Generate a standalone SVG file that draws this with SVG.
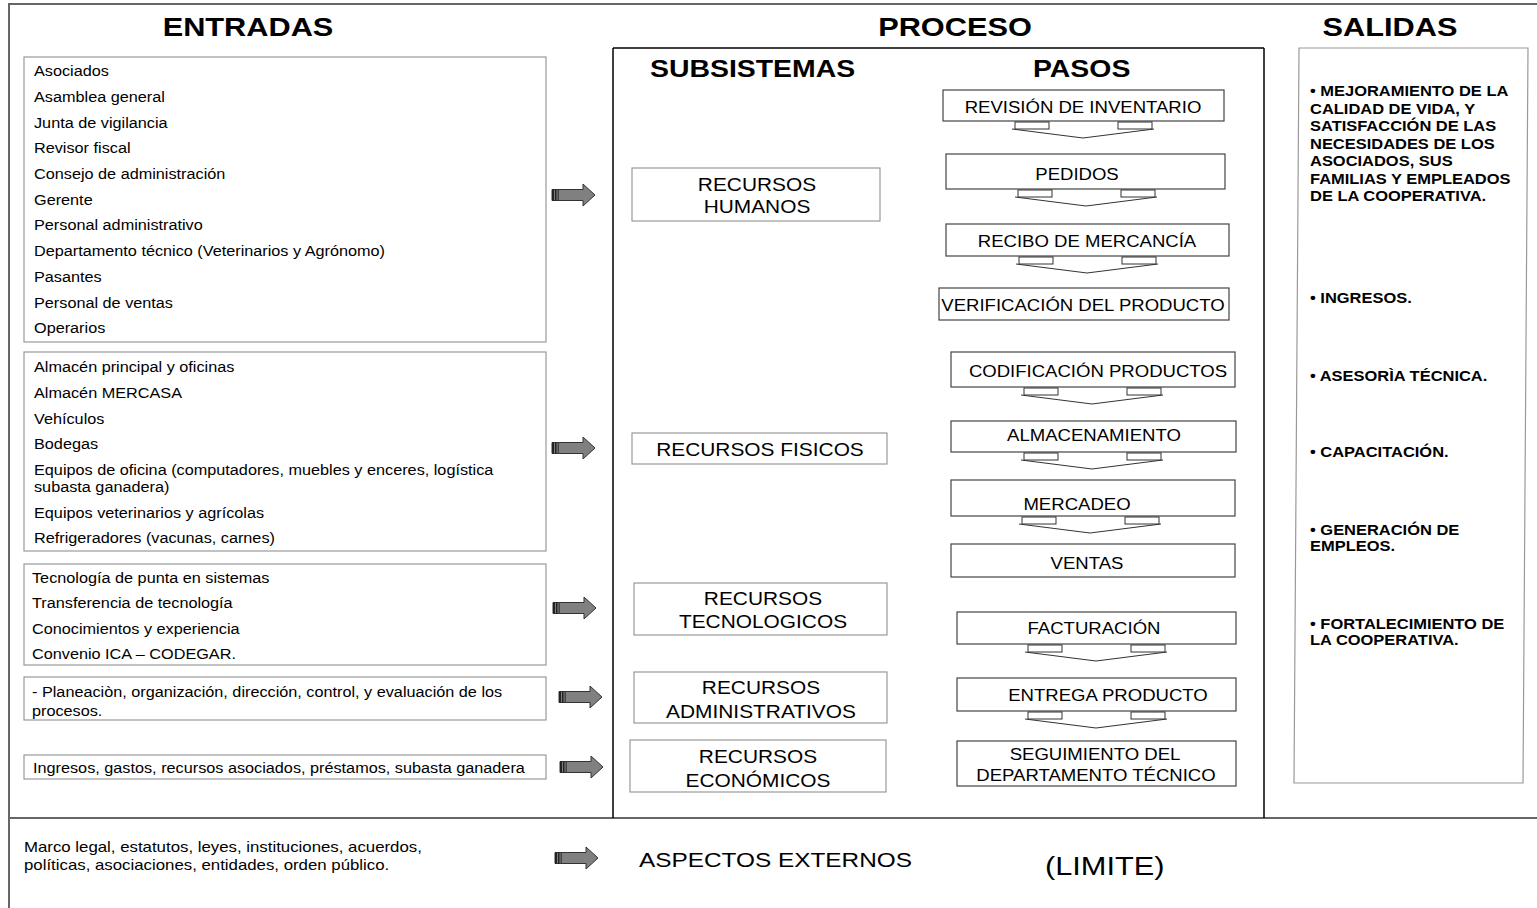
<svg xmlns="http://www.w3.org/2000/svg" xmlns:xlink="http://www.w3.org/1999/xlink" width="1537" height="908" viewBox="0 0 1537 908">
<style>
text{font-family:"Liberation Sans",Arial,sans-serif;fill:#000}
.h{font-size:26.5px;font-weight:bold}
.sh{font-size:24.5px;font-weight:bold}
.l{font-size:14px}
.st{font-size:16px}
.sb{font-size:18px}
.o{font-size:14.2px;font-weight:bold}
.x{font-size:14.5px}
.m{text-anchor:middle}
.gbox{fill:#fff;stroke:#999;stroke-width:1.2}
.sbox{fill:#fff;stroke:#444;stroke-width:1.2}
.frame{fill:none;stroke:#666;stroke-width:2}
.pbox{fill:none;stroke:#000;stroke-width:1.5}
</style>
<defs>
<g id="ba">
<path d="M0,-5.5 H31 V-11 L43,0 L31,11 V5.5 H0 Z" fill="#808080" stroke="#333" stroke-width="1"/>
<rect x="0" y="-5.5" width="2" height="11" fill="#222"/>
<rect x="3" y="-5.5" width="1.5" height="11" fill="#222"/>
<rect x="5.5" y="-5.5" width="1.5" height="11" fill="#444"/>
</g>
<g id="da" fill="#fff" stroke="#333" stroke-width="1">
<rect x="-68" y="1" width="34" height="7"/>
<rect x="35" y="1" width="34" height="7"/>
<polyline points="-71,8 0,17 71,8" fill="none"/>
</g>
</defs>
<rect width="1537" height="908" fill="#fff"/>
<g id="frame">
<line x1="8" y1="4" x2="1537" y2="4" class="frame"/>
<line x1="9" y1="3" x2="9" y2="908" class="frame"/>
<line x1="8" y1="818" x2="1537" y2="818" class="frame"/>
<line x1="613" y1="48" x2="613" y2="818" class="pbox"/>
<line x1="613" y1="48" x2="1264" y2="48" class="pbox"/>
<line x1="1264" y1="48" x2="1264" y2="818" class="pbox"/>
</g>
<g id="headers">
<text class="h m" transform="translate(248,36) scale(1.16,1)">ENTRADAS</text>
<text class="h m" transform="translate(955,36) scale(1.16,1)">PROCESO</text>
<text class="h m" transform="translate(1390,36) scale(1.16,1)">SALIDAS</text>
<text class="sh" transform="translate(650,77) scale(1.16,1)">SUBSISTEMAS</text>
<text class="sh" transform="translate(1033,77) scale(1.16,1)">PASOS</text>
</g>
<g id="entradas-humanos">
<rect x="24" y="57" width="522" height="285" class="gbox"/>
<text class="l" transform="translate(34,76) scale(1.16,1)">Asociados</text>
<text class="l" transform="translate(34,102) scale(1.16,1)">Asamblea general</text>
<text class="l" transform="translate(34,127.5) scale(1.16,1)">Junta de vigilancia</text>
<text class="l" transform="translate(34,153) scale(1.16,1)">Revisor fiscal</text>
<text class="l" transform="translate(34,178.5) scale(1.16,1)">Consejo de administración</text>
<text class="l" transform="translate(34,204.5) scale(1.16,1)">Gerente</text>
<text class="l" transform="translate(34,230) scale(1.16,1)">Personal administrativo</text>
<text class="l" transform="translate(34,256) scale(1.16,1)">Departamento técnico (Veterinarios y Agrónomo)</text>
<text class="l" transform="translate(34,281.5) scale(1.16,1)">Pasantes</text>
<text class="l" transform="translate(34,307.5) scale(1.16,1)">Personal de ventas</text>
<text class="l" transform="translate(34,333) scale(1.16,1)">Operarios</text>
</g>
<g id="entradas-fisicos">
<rect x="24" y="352" width="522" height="199" class="gbox"/>
<text class="l" transform="translate(34,372) scale(1.16,1)">Almacén principal y oficinas</text>
<text class="l" transform="translate(34,397.5) scale(1.16,1)">Almacén MERCASA</text>
<text class="l" transform="translate(34,423.5) scale(1.16,1)">Vehículos</text>
<text class="l" transform="translate(34,449) scale(1.16,1)">Bodegas</text>
<text class="l" transform="translate(34,474.5) scale(1.16,1)">Equipos de oficina (computadores, muebles y enceres, logística</text>
<text class="l" transform="translate(34,491.5) scale(1.16,1)">subasta ganadera)</text>
<text class="l" transform="translate(34,517.5) scale(1.16,1)">Equipos veterinarios y agrícolas</text>
<text class="l" transform="translate(34,543) scale(1.16,1)">Refrigeradores (vacunas, carnes)</text>
</g>
<g id="entradas-tecnologicos">
<rect x="24" y="564" width="522" height="101" class="gbox"/>
<text class="l" transform="translate(32,582.5) scale(1.16,1)">Tecnología de punta en sistemas</text>
<text class="l" transform="translate(32,608) scale(1.16,1)">Transferencia de tecnología</text>
<text class="l" transform="translate(32,633.5) scale(1.16,1)">Conocimientos y experiencia</text>
<text class="l" transform="translate(32,659) scale(1.16,1)">Convenio ICA – CODEGAR.</text>
</g>
<g id="entradas-administrativos">
<rect x="24" y="677" width="522" height="43" class="gbox"/>
<text class="l" transform="translate(32,696.5) scale(1.16,1)">- Planeaciòn, organización, dirección, control, y evaluación de los</text>
<text class="l" transform="translate(32,716) scale(1.16,1)">procesos.</text>
</g>
<g id="entradas-economicos">
<rect x="24" y="755" width="522" height="24" class="gbox"/>
<text class="l" transform="translate(33,773) scale(1.16,1)">Ingresos, gastos, recursos asociados, préstamos, subasta ganadera</text>
</g>
<g id="sub-humanos">
<rect x="632" y="168" width="248" height="53" class="gbox"/>
<text class="sb m" transform="translate(757,191) scale(1.16,1)">RECURSOS</text>
<text class="sb m" transform="translate(757,213) scale(1.16,1)">HUMANOS</text>
</g>
<g id="sub-fisicos">
<rect x="632" y="433" width="255" height="31" class="gbox"/>
<text class="sb m" transform="translate(760,456) scale(1.16,1)">RECURSOS FISICOS</text>
</g>
<g id="sub-tecnologicos">
<rect x="634" y="583" width="253" height="52" class="gbox"/>
<text class="sb m" transform="translate(763,605) scale(1.16,1)">RECURSOS</text>
<text class="sb m" transform="translate(763,628) scale(1.16,1)">TECNOLOGICOS</text>
</g>
<g id="sub-administrativos">
<rect x="634" y="672" width="253" height="51" class="gbox"/>
<text class="sb m" transform="translate(761,694) scale(1.16,1)">RECURSOS</text>
<text class="sb m" transform="translate(761,718) scale(1.16,1)">ADMINISTRATIVOS</text>
</g>
<g id="sub-economicos">
<rect x="630" y="740" width="256" height="52" class="gbox"/>
<text class="sb m" transform="translate(758,763) scale(1.16,1)">RECURSOS</text>
<text class="sb m" transform="translate(758,787) scale(1.16,1)">ECONÓMICOS</text>
</g>
<g id="paso-revision">
<rect x="943" y="90" width="281" height="31" class="sbox"/>
<text class="st m" transform="translate(1083,113) scale(1.16,1)">REVISIÓN DE INVENTARIO</text>
</g>
<g id="paso-pedidos">
<rect x="946" y="154" width="279" height="35" class="sbox"/>
<text class="st m" transform="translate(1077,180) scale(1.16,1)">PEDIDOS</text>
</g>
<g id="paso-recibo">
<rect x="946" y="224" width="283" height="32" class="sbox"/>
<text class="st m" transform="translate(1087,247) scale(1.16,1)">RECIBO DE MERCANCÍA</text>
</g>
<g id="paso-verificacion">
<rect x="939" y="288" width="290" height="32" class="sbox"/>
<text class="st m" transform="translate(1083,311) scale(1.16,1)">VERIFICACIÓN DEL PRODUCTO</text>
</g>
<g id="paso-codificacion">
<rect x="951" y="352" width="284" height="35" class="sbox"/>
<text class="st m" transform="translate(1098,377) scale(1.16,1)">CODIFICACIÓN PRODUCTOS</text>
</g>
<g id="paso-almacenamiento">
<rect x="951" y="421" width="285" height="31" class="sbox"/>
<text class="st m" transform="translate(1094,441) scale(1.16,1)">ALMACENAMIENTO</text>
</g>
<g id="paso-mercadeo">
<rect x="951" y="480" width="284" height="36" class="sbox"/>
<text class="st m" transform="translate(1077,510) scale(1.16,1)">MERCADEO</text>
</g>
<g id="paso-ventas">
<rect x="951" y="544" width="284" height="33" class="sbox"/>
<text class="st m" transform="translate(1087,569) scale(1.16,1)">VENTAS</text>
</g>
<g id="paso-facturacion">
<rect x="957" y="612" width="279" height="32" class="sbox"/>
<text class="st m" transform="translate(1094,634) scale(1.16,1)">FACTURACIÓN</text>
</g>
<g id="paso-entrega">
<rect x="957" y="678" width="279" height="33" class="sbox"/>
<text class="st m" transform="translate(1108,701) scale(1.16,1)">ENTREGA PRODUCTO</text>
</g>
<g id="paso-seguimiento">
<rect x="957" y="741" width="279" height="45" class="sbox"/>
<text class="st m" transform="translate(1095,760) scale(1.16,1)">SEGUIMIENTO DEL</text>
<text class="st m" transform="translate(1096,781) scale(1.16,1)">DEPARTAMENTO TÉCNICO</text>
</g>
<g id="salidas">
<polygon points="1299,48 1528,48 1523,783 1294,783" class="gbox"/>
<g class="o">
<text transform="translate(1310,96) scale(1.16,1)">• MEJORAMIENTO DE LA</text>
<text transform="translate(1310,113.5) scale(1.16,1)">CALIDAD DE VIDA, Y</text>
<text transform="translate(1310,131) scale(1.16,1)">SATISFACCIÓN DE LAS</text>
<text transform="translate(1310,148.5) scale(1.16,1)">NECESIDADES DE LOS</text>
<text transform="translate(1310,166) scale(1.16,1)">ASOCIADOS, SUS</text>
<text transform="translate(1310,183.5) scale(1.16,1)">FAMILIAS Y EMPLEADOS</text>
<text transform="translate(1310,201) scale(1.16,1)">DE LA COOPERATIVA.</text>
<text transform="translate(1310,303) scale(1.16,1)">• INGRESOS.</text>
<text transform="translate(1310,381) scale(1.16,1)">• ASESORÌA TÉCNICA.</text>
<text transform="translate(1310,457) scale(1.16,1)">• CAPACITACIÓN.</text>
<text transform="translate(1310,535) scale(1.16,1)">• GENERACIÓN DE</text>
<text transform="translate(1310,551) scale(1.16,1)">EMPLEOS.</text>
<text transform="translate(1310,629) scale(1.16,1)">• FORTALECIMIENTO DE</text>
<text transform="translate(1310,645) scale(1.16,1)">LA COOPERATIVA.</text>
</g>
</g>
<g id="externos">
<text class="x" transform="translate(24,852) scale(1.16,1)">Marco legal, estatutos, leyes, instituciones, acuerdos,</text>
<text class="x" transform="translate(24,870) scale(1.16,1)">políticas, asociaciones, entidades, orden público.</text>
<text style="font-size:21px" transform="translate(639,867) scale(1.16,1)">ASPECTOS EXTERNOS</text>
<text style="font-size:26.5px" transform="translate(1045,875) scale(1.16,1)">(LIMITE)</text>
</g>
<g id="connectors">
<use xlink:href="#ba" transform="translate(552,195)"/>
<use xlink:href="#ba" transform="translate(552,448)"/>
<use xlink:href="#ba" transform="translate(553,608)"/>
<use xlink:href="#ba" transform="translate(559,697)"/>
<use xlink:href="#ba" transform="translate(560,767)"/>
<use xlink:href="#ba" transform="translate(555,858)"/>
<use xlink:href="#da" transform="translate(1083,121)"/>
<use xlink:href="#da" transform="translate(1086,189)"/>
<use xlink:href="#da" transform="translate(1087,256)"/>
<use xlink:href="#da" transform="translate(1092,387)"/>
<use xlink:href="#da" transform="translate(1092,452)"/>
<use xlink:href="#da" transform="translate(1090,516)"/>
<use xlink:href="#da" transform="translate(1096,644)"/>
<use xlink:href="#da" transform="translate(1096,711)"/>
</g>
</svg>
